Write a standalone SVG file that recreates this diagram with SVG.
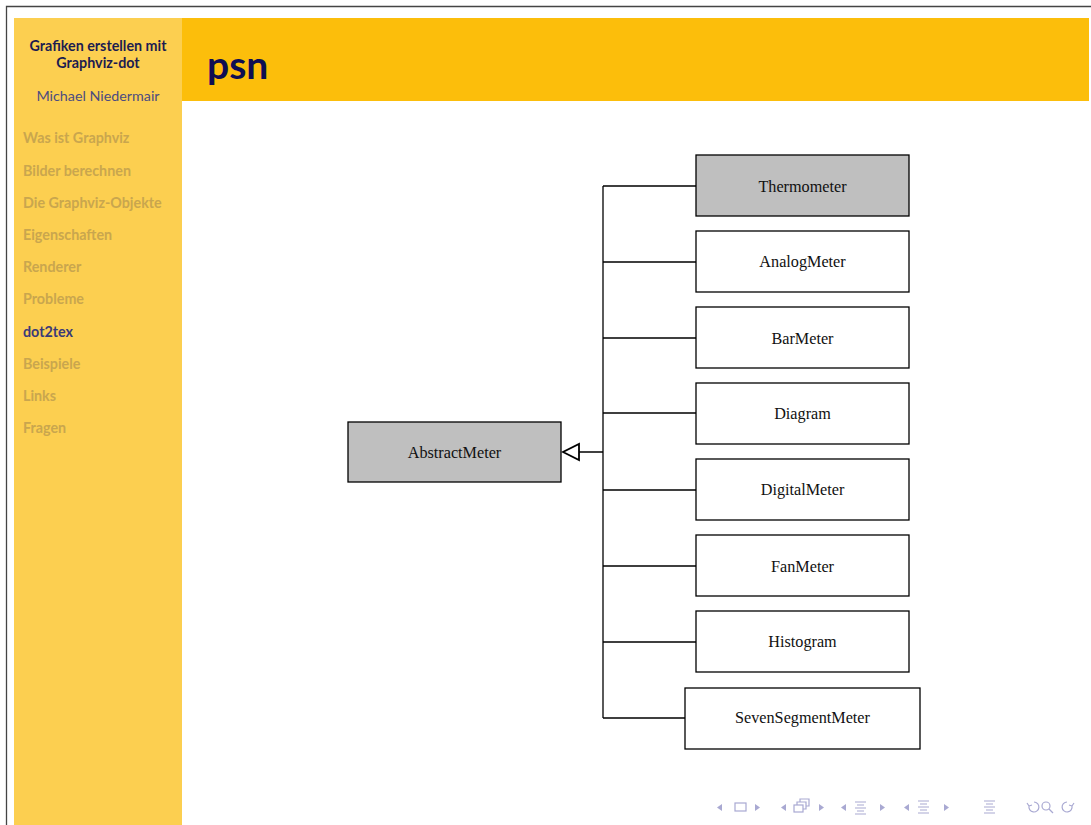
<svg xmlns="http://www.w3.org/2000/svg" width="1091" height="825" viewBox="0 0 1091 825">
  <style>
    .side { font-family: "Lato", "Liberation Sans", sans-serif; font-size: 14.3px; }
    .item { fill: #c9a64e; font-weight: bold; }
    .node rect { stroke: #000; stroke-width: 1.3; }
    .node text { font-family: "Liberation Serif", serif; font-size: 16.2px; fill: #111; text-anchor: middle; }
    .plain rect { fill: #fff; }
    .grey rect { fill: #bfbfbf; }
    .edge { stroke: #000; stroke-width: 1.3; fill: none; }
    .nav { fill: none; stroke: #a9a9d2; stroke-width: 1.2; }
    .navf { fill: #a9a9d2; }
  </style>
  <defs>
    <!-- hollow inheritance arrowhead, tip at the path end -->
    <marker id="inherit" markerWidth="20" markerHeight="20" refX="17" refY="10" orient="auto" markerUnits="userSpaceOnUse">
      <polygon points="17,10 1,2 1,18" fill="#fff" stroke="#000" stroke-width="1.8"/>
    </marker>
  </defs>

  <!-- page -->
  <rect x="0" y="0" width="1091" height="825" fill="#fff"/>
  <path d="M6.5 825 V6.5 H1091" fill="none" stroke="#444" stroke-width="1.3"/>

  <!-- sidebar -->
  <rect x="14" y="18" width="168" height="807" fill="#fccf50"/>
  <g class="side">
    <text x="98" y="51" text-anchor="middle" fill="#1c1c50" font-weight="bold">Grafiken erstellen mit</text>
    <text x="98" y="68" text-anchor="middle" fill="#1c1c50" font-weight="bold">Graphviz-dot</text>
    <text x="98" y="101" text-anchor="middle" fill="#4c4c80">Michael Niedermair</text>
    <text class="item" x="23" y="143">Was ist Graphviz</text>
    <text class="item" x="23" y="176">Bilder berechnen</text>
    <text class="item" x="23" y="208">Die Graphviz-Objekte</text>
    <text class="item" x="23" y="240">Eigenschaften</text>
    <text class="item" x="23" y="272">Renderer</text>
    <text class="item" x="23" y="304">Probleme</text>
    <text x="23" y="337" fill="#3a3a78" font-weight="bold">dot2tex</text>
    <text class="item" x="23" y="369">Beispiele</text>
    <text class="item" x="23" y="401">Links</text>
    <text class="item" x="23" y="433">Fragen</text>
  </g>

  <!-- header -->
  <rect x="182" y="18" width="907" height="83" fill="#fcbe0b"/>
  <text x="207" y="79" font-family="Lato, 'Liberation Sans', sans-serif" font-size="39" font-weight="bold" fill="#0e0e52">psn</text>

  <!-- connectors -->
  <g id="edges">
    <path class="edge" d="M603 186 V718"/>
    <path class="edge" d="M603 186 H696 M603 262 H696 M603 338 H696 M603 413 H696 M603 490 H696 M603 566 H696 M603 642 H696 M603 718 H685"/>
    <path class="edge" d="M603 452 H563" marker-end="url(#inherit)"/>
  </g>

  <!-- nodes -->
  <g id="AbstractMeter" class="node grey"><rect x="348" y="422" width="213" height="60"/><text x="454.5" y="458">AbstractMeter</text></g>
  <g id="Thermometer" class="node grey"><rect x="696" y="155" width="213" height="61"/><text x="802.5" y="192">Thermometer</text></g>
  <g id="AnalogMeter" class="node plain"><rect x="696" y="231" width="213" height="61"/><text x="802.5" y="267">AnalogMeter</text></g>
  <g id="BarMeter" class="node plain"><rect x="696" y="307" width="213" height="61"/><text x="802.5" y="344">BarMeter</text></g>
  <g id="Diagram" class="node plain"><rect x="696" y="383" width="213" height="61"/><text x="802.5" y="419">Diagram</text></g>
  <g id="DigitalMeter" class="node plain"><rect x="696" y="459" width="213" height="61"/><text x="802.5" y="495">DigitalMeter</text></g>
  <g id="FanMeter" class="node plain"><rect x="696" y="535" width="213" height="61"/><text x="802.5" y="572">FanMeter</text></g>
  <g id="Histogram" class="node plain"><rect x="696" y="611" width="213" height="61"/><text x="802.5" y="647">Histogram</text></g>
  <g id="SevenSegmentMeter" class="node plain"><rect x="685" y="688" width="235" height="61"/><text x="802.5" y="723">SevenSegmentMeter</text></g>

  <!-- navigation symbols -->
  <g id="navigation">
    <polygon class="navf" points="722,804 717,807.5 722,811"/>
    <rect class="nav" x="735" y="803" width="11" height="8"/>
    <polygon class="navf" points="755,804 760,807.5 755,811"/>
    <polygon class="navf" points="786,804 781,807.5 786,811"/>
    <rect class="nav" x="794" y="805" width="9" height="7"/>
    <path class="nav" d="M797 805 V802 H806 V809 H803 M800 802 V799 H809 V806 H806"/>
    <polygon class="navf" points="819,804 824,807.5 819,811"/>
    <polygon class="navf" points="846,804 841,807.5 846,811"/>
    <path class="nav" d="M855 802 H866 M857 805 H864 M855 808 H866 M857 811 H864 M855 814 H866"/>
    <polygon class="navf" points="880,804 885,807.5 880,811"/>
    <polygon class="navf" points="909,804 904,807.5 909,811"/>
    <path class="nav" d="M918 801 H929 M920 804 H927 M918 807 H929 M920 810 H927 M918 813 H929"/>
    <polygon class="navf" points="944,804 949,807.5 944,811"/>
    <path class="nav" d="M984 801 H995 M986 804 H993 M984 807 H995 M986 810 H993 M984 813 H995"/>
    <path class="nav" d="M1029 806 A5 5 0 1 0 1034 802 M1029 806 L1027 803 M1029 806 L1032 805"/>
    <circle class="nav" cx="1046" cy="806" r="4"/>
    <path class="nav" d="M1049 809 L1053 813"/>
    <path class="nav" d="M1072 806 A5 5 0 1 1 1067 802 M1072 806 L1074 803 M1072 806 L1069 805"/>
  </g>
</svg>
